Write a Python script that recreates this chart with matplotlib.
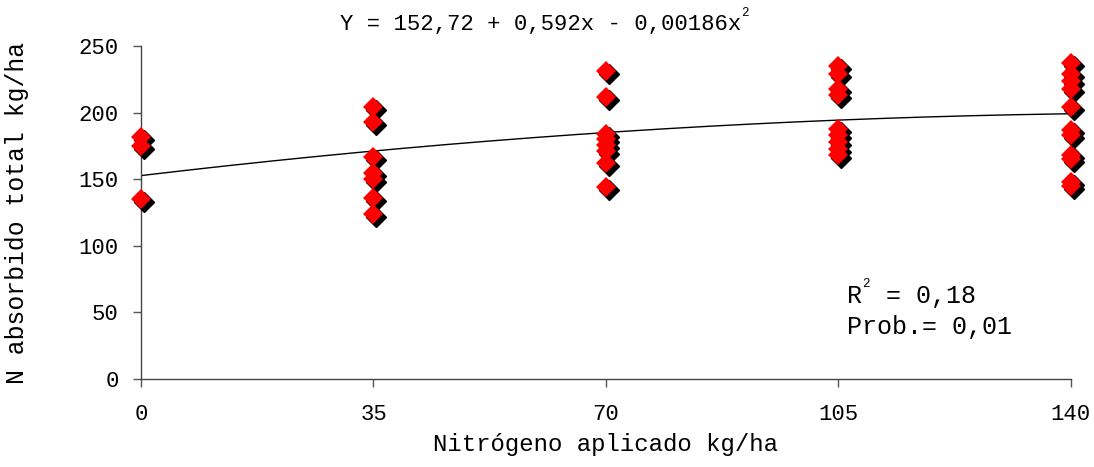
import numpy as np
import matplotlib
matplotlib.use("Agg")
import matplotlib.pyplot as plt
from matplotlib.transforms import offset_copy

plt.rcParams['font.family'] = ['Liberation Mono', 'DejaVu Sans Mono']

# Observed N uptake per nitrogen dose
dose_0 = [182, 175, 135]
dose_35 = [204, 193, 167, 155, 150, 136, 124]
dose_70 = [231, 212, 184, 180, 176, 171, 162, 144]
dose_105 = [235, 229, 218, 213, 188, 183, 178, 173, 168]
dose_140 = [237, 229, 224, 218, 204, 187, 183, 168, 165, 148, 145]
doses = [0, 35, 70, 105, 140]

# Quadratic fit coefficients
b0, b1, b2 = 152.72, 0.592, -0.00186

x_ticks = [0, 35, 70, 105, 140]
y_ticks = [0, 50, 100, 150, 200, 250]

fig = plt.figure(figsize=(10.94, 4.67), dpi=100)
ax = fig.add_axes([0.1289, 0.1884, 0.8500, 0.7131])

xs, ys = [], []
for d, vals in zip(doses, [dose_0, dose_35, dose_70, dose_105, dose_140]):
    xs += [d] * len(vals)
    ys += vals

# fitted curve
xc = np.linspace(0, 140, 300)
ax.plot(xc, b0 + b1 * xc + b2 * xc ** 2, color='black', lw=1.0, zorder=2)

# drop shadow behind each diamond
shadow = offset_copy(ax.transData, fig=fig, x=3, y=-3, units='dots')
ax.plot(xs, ys, linestyle='none', marker='D', markersize=10,
        color='black', transform=shadow, clip_on=False, zorder=3)
ax.plot(xs, ys, linestyle='none', marker='D', markersize=10,
        color='#ff0000', markeredgewidth=0, clip_on=False, zorder=4)

ax.set_xlim(0, 140)
ax.set_ylim(0, 250)
ax.set_xticks(x_ticks)
ax.set_yticks(y_ticks)
ax.tick_params(axis='both', labelsize=16, color='#555555', length=6,
               width=1, direction='out')
ax.tick_params(axis='x', pad=12)
ax.tick_params(axis='y', pad=10)
for s in ['top', 'right']:
    ax.spines[s].set_visible(False)
for s in ['left', 'bottom']:
    ax.spines[s].set_color('#444444')
    ax.spines[s].set_linewidth(1)

ax.set_xlabel('Nitrógeno aplicado kg/ha', fontsize=17.3, labelpad=6)
ax.set_ylabel('N absorbido total kg/ha', fontsize=17.8, labelpad=36)

# equation with small superscript
eq = fig.text(0.3105, 0.936, 'Y = 152,72 + 0,592x - 0,00186x', fontsize=16,
              ha='left', va='baseline')
ax.annotate('2', xy=(1, 0.75), xycoords=eq, fontsize=9, ha='left', va='bottom')

r_txt = fig.text(0.7745, 0.351, 'R', fontsize=18, ha='left', va='baseline')
ax.annotate('2', xy=(1, 0.75), xycoords=r_txt, fontsize=9, ha='left', va='bottom')
fig.text(0.8095, 0.351, '= 0,18', fontsize=18, ha='left', va='baseline')
fig.text(0.7745, 0.285, 'Prob.= 0,01', fontsize=18, ha='left', va='baseline')

fig.savefig('out.png', dpi=100)
